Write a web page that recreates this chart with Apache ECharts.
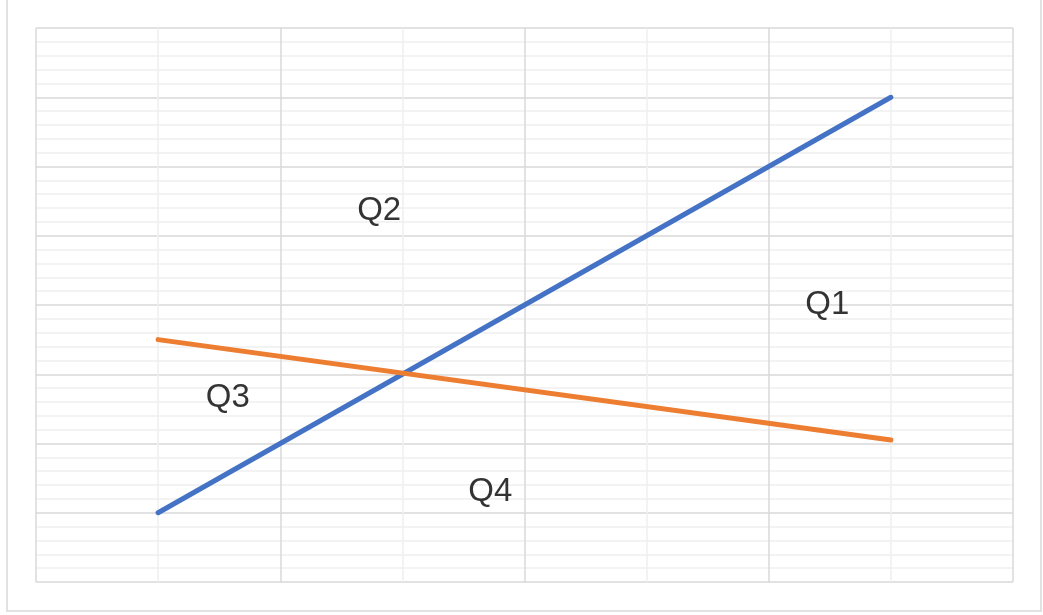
<!DOCTYPE html>
<html>
<head>
<meta charset="utf-8">
<script src="https://cdn.jsdelivr.net/npm/echarts@6/dist/echarts.min.js"></script>
<style>
  html, body { margin: 0; padding: 0; background: #ffffff; }
  #chart { width: 1043px; height: 615px; }
</style>
</head>
<body>
<div id="chart"></div>
<script>
// Two straight lines crossing, with quadrant labels
const lineX = [1, 7];
const blueY = [1, 7];
const orangeY = [3.5, 2.05];

const quadNames = ['Q1', 'Q2', 'Q3', 'Q4'];
const quadX = [6.48, 2.81, 1.57, 3.72];
const quadY = [4.0, 5.36, 2.66, 1.3];

const majorColor = '#d9d9d9';
const minorColor = '#f0f0f0';

const chart = echarts.init(document.getElementById('chart'), null, { renderer: 'canvas' });

chart.setOption({
  backgroundColor: '#ffffff',
  animation: false,
  grid: { left: 36, top: 28, right: 30, bottom: 33, containLabel: false },
  xAxis: {
    type: 'value', min: 0, max: 8, interval: 2,
    axisLine: { show: false }, axisTick: { show: false }, axisLabel: { show: false },
    splitLine: { show: true, lineStyle: { color: majorColor, width: 1.5 } },
    minorTick: { show: false, splitNumber: 2 },
    minorSplitLine: { show: true, lineStyle: { color: minorColor, width: 1.5 } }
  },
  yAxis: {
    type: 'value', min: 0, max: 8, interval: 1,
    axisLine: { show: false }, axisTick: { show: false }, axisLabel: { show: false },
    splitLine: { show: true, lineStyle: { color: majorColor, width: 1.5 } },
    minorTick: { show: false, splitNumber: 5 },
    minorSplitLine: { show: true, lineStyle: { color: minorColor, width: 1.5 } }
  },
  graphic: [{
    type: 'rect',
    shape: { x: 7, y: -2, width: 1034, height: 613 },
    style: { fill: 'none', stroke: majorColor, lineWidth: 1.5 },
    silent: true
  }],
  series: [
    {
      type: 'line',
      data: lineX.map((x, i) => [x, blueY[i]]),
      showSymbol: false,
      lineStyle: { color: '#4472C4', width: 5, cap: 'round' }
    },
    {
      type: 'line',
      data: lineX.map((x, i) => [x, orangeY[i]]),
      showSymbol: false,
      lineStyle: { color: '#ED7D31', width: 5, cap: 'round' }
    },
    {
      type: 'scatter',
      symbolSize: 0,
      data: quadNames.map((n, i) => ({ name: n, value: [quadX[i], quadY[i]] })),
      label: {
        show: true, position: 'inside', formatter: '{b}',
        fontFamily: 'Liberation Sans', fontSize: 33, color: '#000000',
        textBorderWidth: 0
      },
      z: 5
    }
  ]
});
</script>
</body>
</html>
